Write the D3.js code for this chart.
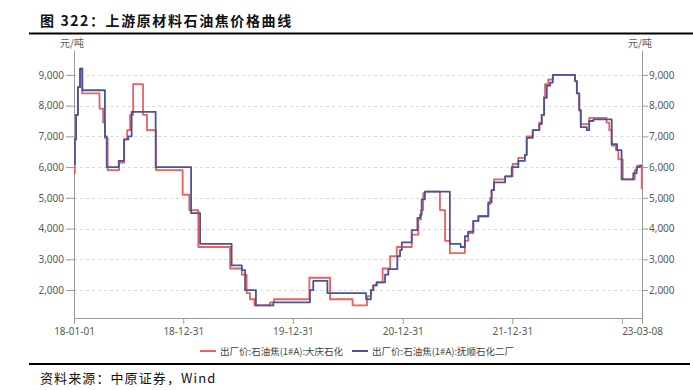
<!DOCTYPE html>
<html>
<head>
<meta charset="utf-8">
<script src="https://cdn.jsdelivr.net/npm/d3@7"></script>
<style>
  html, body { margin: 0; padding: 0; background: #fff; }
  svg { display: block; font-family: "Noto Sans CJK SC", "Noto Sans", sans-serif; }
</style>
</head>
<body>
<svg id="chart" width="693" height="390"></svg>
<script>
// price change points (step data), 元/吨
const daqingDates = ['2018-01-01','2018-01-04','2018-01-08','2018-01-14','2018-01-21','2018-01-28','2018-03-27','2018-04-08','2018-04-14','2018-04-23','2018-05-31','2018-06-17','2018-06-27','2018-07-07','2018-07-17','2018-08-19','2018-09-01','2018-10-01','2018-12-29','2019-01-20','2019-02-19','2019-06-05','2019-07-14','2019-07-30','2019-08-10','2019-08-25','2019-10-16','2019-10-29','2020-02-24','2020-05-03','2020-07-17','2020-09-03','2020-09-16','2020-09-24','2020-10-05','2020-10-25','2020-11-19','2020-12-11','2021-01-30','2021-02-21','2021-03-02','2021-03-09','2021-03-15','2021-05-04','2021-05-21','2021-06-06','2021-07-26','2021-08-06','2021-08-23','2021-09-09','2021-10-12','2021-10-18','2021-10-23','2021-10-31','2021-12-07','2022-01-01','2022-01-20','2022-02-11','2022-02-17','2022-03-09','2022-03-31','2022-04-08','2022-04-16','2022-04-19','2022-04-30','2022-05-15','2022-07-28','2022-08-03','2022-08-11','2022-08-16','2022-09-13','2022-11-10','2022-11-19','2022-11-27','2022-12-11','2022-12-19','2023-01-03','2023-02-12','2023-02-20','2023-03-07','2023-03-08'];
const daqingValues = [5800,6900,7700,8600,9200,8400,7900,7450,6950,5900,6150,6900,7200,7700,8700,7700,7200,5900,5100,4600,3400,2700,2500,1900,1700,1500,1600,1700,2400,1700,1500,1800,2000,2150,2250,2700,3100,3400,3800,4300,4600,5150,5200,4600,3600,3200,3600,3850,4250,4400,4800,5000,5250,5600,5700,6100,6300,6400,7000,7200,7450,7700,8300,8700,8850,9000,8800,8400,7850,7400,7600,7450,7200,6700,6550,6250,5600,5900,6050,5300,5300];

const fushunDates = ['2018-01-01','2018-01-04','2018-01-08','2018-01-14','2018-01-21','2018-01-29','2018-04-14','2018-04-20','2018-05-30','2018-06-17','2018-07-01','2018-07-12','2018-09-30','2019-01-26','2019-02-25','2019-06-10','2019-07-14','2019-07-25','2019-08-30','2019-10-27','2020-02-26','2020-03-08','2020-04-24','2020-08-31','2020-09-16','2020-09-24','2020-10-05','2020-11-02','2020-11-13','2020-12-13','2020-12-22','2020-12-28','2021-01-30','2021-02-18','2021-02-27','2021-03-04','2021-03-15','2021-06-06','2021-07-12','2021-07-26','2021-08-06','2021-08-23','2021-09-09','2021-10-12','2021-10-23','2021-10-31','2021-12-07','2021-12-29','2022-01-20','2022-02-11','2022-02-17','2022-03-09','2022-03-31','2022-04-08','2022-04-16','2022-04-25','2022-05-06','2022-05-15','2022-07-28','2022-08-03','2022-08-11','2022-08-16','2022-09-05','2022-09-13','2022-09-27','2022-11-27','2022-12-15','2022-12-30','2023-02-07','2023-02-18','2023-03-01','2023-03-08'];
const fushunValues = [6100,6900,7700,8600,9200,8500,7000,6000,6200,6900,7000,7800,6000,4500,3500,2800,2650,2000,1500,1600,2000,2300,1900,1700,2000,2150,2250,2500,2680,3100,3300,3550,3950,4350,4450,4950,5200,3500,3400,3750,3900,4250,4400,4850,5250,5500,5700,6000,6200,6400,6950,7200,7400,7700,8250,8650,8750,9000,8800,8400,7850,7300,7200,7500,7550,6750,6550,5600,5800,6000,6050,6050];

const seriesNames = ['出厂价:石油焦(1#A):大庆石化', '出厂价:石油焦(1#A):抚顺石化二厂'];
const seriesColors = ['#EA5F62', '#4A5497'];
const yTicks = [2000, 3000, 4000, 5000, 6000, 7000, 8000, 9000];
const xTickDates = ['2018-01-01','2018-12-31','2019-12-31','2020-12-31','2021-12-31','2022-12-31','2023-03-08'];
const xTickLabels = ['18-01-01','18-12-31','19-12-31','20-12-31','21-12-31','','23-03-08'];

const parse = d3.timeParse('%Y-%m-%d');
const svg = d3.select('#chart');
const W = 693, H = 390;
const margin = {top: 50, right: 51, bottom: 72, left: 74};

svg.append('rect').attr('width', W).attr('height', H).attr('fill', '#fff');

// title
svg.append('text')
  .attr('x', 40).attr('y', 26)
  .attr('font-size', 14).attr('font-weight', 'bold')
  .attr('letter-spacing', 1.6)
  .attr('fill', '#111')
  .text('图 322：上游原材料石油焦价格曲线');
svg.append('line').attr('x1', 29).attr('x2', 693).attr('y1', 33.5).attr('y2', 33.5)
  .attr('stroke', '#000').attr('stroke-width', 2);

const x = d3.scaleTime()
  .domain([parse('2018-01-01'), parse('2023-03-08')])
  .range([margin.left, W - margin.right]);
const y = d3.scaleLinear()
  .domain([1090, 9810])
  .range([H - margin.bottom, margin.top]);

// grid
svg.append('g').selectAll('line').data(yTicks).join('line')
  .attr('x1', margin.left).attr('x2', W - margin.right)
  .attr('y1', d => Math.round(y(d)) + 0.5).attr('y2', d => Math.round(y(d)) + 0.5)
  .attr('stroke', '#d9d9d9').attr('stroke-dasharray', '3,3');

const fmt = d3.format(',');
const axisColor = '#9a9a9a';
const labelColor = '#595959';

function styleAxis(g) {
  g.select('.domain').attr('stroke', axisColor);
  g.selectAll('.tick line').attr('stroke', axisColor);
  g.selectAll('.tick text').attr('fill', labelColor).attr('font-size', 10)
    .attr('font-family', '"Noto Sans", sans-serif');
}

svg.append('g')
  .attr('transform', `translate(${margin.left},0)`)
  .call(d3.axisLeft(y).tickValues(yTicks).tickFormat(fmt).tickSize(8).tickPadding(2).tickSizeOuter(0))
  .call(styleAxis);

svg.append('g')
  .attr('transform', `translate(${W - margin.right},0)`)
  .call(d3.axisRight(y).tickValues(yTicks).tickFormat(fmt).tickSize(6).tickPadding(1).tickSizeOuter(0))
  .call(styleAxis);

svg.append('g')
  .attr('transform', `translate(0,${H - margin.bottom})`)
  .call(d3.axisBottom(x).tickValues(xTickDates.map(parse))
    .tickFormat((d, i) => xTickLabels[i]).tickSize(6).tickPadding(4).tickSizeOuter(0))
  .call(styleAxis);

// unit labels
svg.append('text').attr('x', 72).attr('y', 47).attr('text-anchor', 'middle')
  .attr('font-size', 10).attr('fill', labelColor).text('元/吨');
svg.append('text').attr('x', 640).attr('y', 47).attr('text-anchor', 'middle')
  .attr('font-size', 10).attr('fill', labelColor).text('元/吨');

// lines
const line = d3.line()
  .x(d => x(d[0])).y(d => y(d[1]))
  .curve(d3.curveStepAfter);

const series = [
  daqingDates.map((d, i) => [parse(d), daqingValues[i]]),
  fushunDates.map((d, i) => [parse(d), fushunValues[i]])
];

svg.append('g').selectAll('path').data(series).join('path')
  .attr('d', line)
  .attr('fill', 'none')
  .attr('stroke', (d, i) => seriesColors[i])
  .attr('stroke-width', 1.8)
  .attr('stroke-linejoin', 'round');

// legend
const legendX = [200, 352];
const lg = svg.append('g').selectAll('g').data(seriesNames).join('g')
  .attr('transform', (d, i) => `translate(${legendX[i]},351)`);
lg.append('line').attr('x1', 0).attr('x2', 16).attr('y1', 0).attr('y2', 0)
  .attr('stroke', (d, i) => seriesColors[i]).attr('stroke-width', 2);
lg.append('text').attr('x', 20).attr('y', 3.5).attr('font-size', 9.5)
  .attr('fill', '#404040').text(d => d);

// footer
svg.append('line').attr('x1', 29).attr('x2', 690).attr('y1', 364).attr('y2', 364)
  .attr('stroke', '#000').attr('stroke-width', 2);
svg.append('text').attr('x', 40).attr('y', 383)
  .attr('font-size', 13).attr('letter-spacing', 1.1).attr('fill', '#111')
  .text('资料来源：中原证券，Wind');
</script>
</body>
</html>
